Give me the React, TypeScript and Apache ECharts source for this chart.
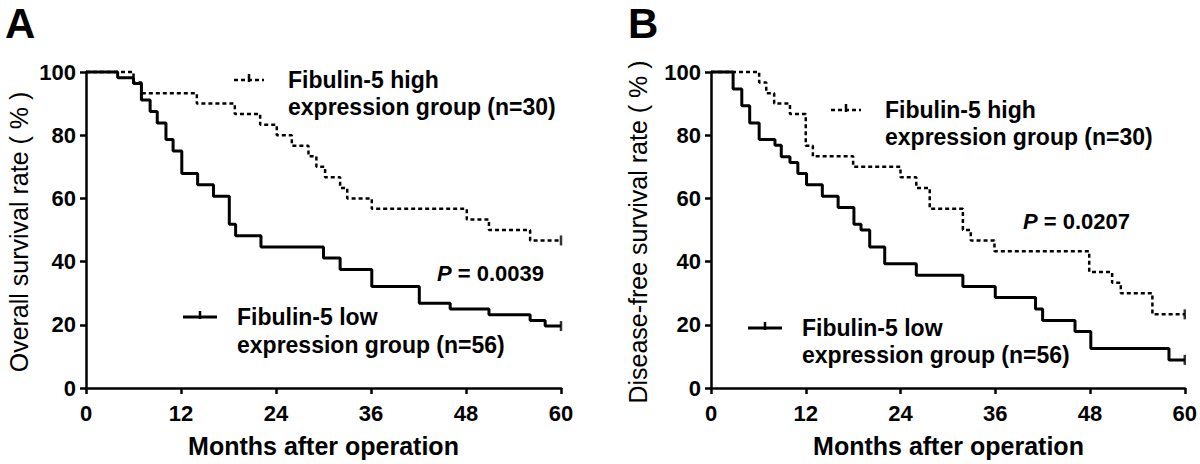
import React, { useEffect, useRef } from "react";
import * as echarts from "echarts";

// ---- Data ----
const monthTicks = [0, 12, 24, 36, 48, 60];
const rateTicks = [0, 20, 40, 60, 80, 100];

// Panel A: overall survival
const osHighMonths = [0, 6, 7, 14, 18.8, 22, 24.1, 26, 28.1, 29.1, 30.2, 32.1, 33, 36.1, 48.1, 50.9, 56.1, 60];
const osHighRate = [100, 96.7, 93.3, 90, 86.7, 83.3, 80, 76.7, 73.3, 70, 66.7, 63.3, 60, 56.7, 53.3, 50, 46.7, 46.7];
const osLowMonths = [0, 4, 6, 7, 8.1, 9, 10.1, 11, 12.1, 14.1, 16.1, 18.1, 18.9, 22.1, 30, 32.1, 36.1, 42.1, 46, 50.9, 56.1, 58, 60];
const osLowRate = [100, 98.2, 96.4, 91.1, 87.5, 83.9, 78.6, 75, 67.9, 64.3, 60.7, 51.8, 48.2, 44.6, 41.1, 37.5, 32.1, 26.8, 25, 23.2, 21.4, 19.6, 19.6];

// Panel B: disease-free survival
const dfsHighMonths = [0, 6.1, 7, 8, 10, 12, 12.9, 18, 24, 26, 27.7, 31.9, 32.9, 35.9, 47.9, 50.8, 51.9, 55.9, 60];
const dfsHighRate = [100, 96.7, 93.3, 90, 86.7, 76.7, 73.3, 70, 66.7, 63.3, 56.7, 50, 46.7, 43.3, 36.7, 33.3, 30, 23.3, 23.3];
const dfsLowMonths = [0, 2.8, 3.9, 4.9, 6.1, 8.1, 8.9, 10, 11, 12.1, 14.1, 16.1, 18.1, 19, 20.1, 22, 26, 31.9, 36, 41.1, 42, 46.1, 48.1, 58, 60];
const dfsLowRate = [100, 94.6, 89.3, 83.9, 78.6, 76.8, 73.2, 71.4, 67.9, 64.3, 60.7, 57.1, 51.8, 50, 44.6, 39.3, 35.7, 32.1, 28.6, 25, 21.4, 17.9, 12.5, 8.9, 8.9];

// censored marks at end of follow-up
const censorA = [[60, 46.7], [60, 19.6]];
const censorB = [[60, 23.3], [60, 8.9]];

const highLabel = ["Fibulin-5 high", "expression group (n=30)"];
const lowLabel = ["Fibulin-5 low", "expression group (n=56)"];
const pA = "0.0039";
const pB = "0.0207";

const FONT = "'Liberation Sans', Arial, sans-serif";

const zip = (xs: number[], ys: number[]) => xs.map((x, i) => [x, ys[i]]);

function axisCommon(gridIndex: number, isX: boolean) {
  return {
    type: "value",
    gridIndex,
    min: 0,
    max: isX ? 60 : 100,
    interval: isX ? 12 : 20,
    axisLine: { show: true, onZero: false, lineStyle: { color: "#000", width: 2.5 } },
    axisTick: { show: true, length: 6, lineStyle: { color: "#000", width: 2.5 } },
    axisLabel: {
      color: "#000",
      fontFamily: FONT,
      fontWeight: "bold",
      fontSize: 22,
      margin: isX ? 14 : 10,
    },
    splitLine: { show: false },
  };
}

function kmSeries(idx: number, data: number[][], dashed: boolean) {
  return {
    type: "line",
    xAxisIndex: idx,
    yAxisIndex: idx,
    step: "end",
    symbol: "none",
    clip: false,
    data,
    lineStyle: dashed
      ? { color: "#000", width: 2.5, type: [4, 3] }
      : { color: "#000", width: 3, type: "solid" },
    z: dashed ? 2 : 3,
  };
}

function censorSeries(idx: number, data: number[][]) {
  return {
    type: "scatter",
    xAxisIndex: idx,
    yAxisIndex: idx,
    symbol: "rect",
    symbolSize: [2.5, 10],
    clip: false,
    itemStyle: { color: "#000" },
    data,
    z: 4,
  };
}

function legendItem(x: number, y: number, textX: number, lines: string[], dashed: boolean, lineGap: number) {
  const w = dashed ? 30 : 34;
  return [
    {
      type: "line",
      shape: { x1: x, y1: y, x2: x + w, y2: y },
      style: { stroke: "#000", lineWidth: dashed ? 2.5 : 3, lineDash: dashed ? [4, 3] : null },
    },
    {
      type: "rect",
      shape: { x: x + w / 2 - 1.25, y: y - 6, width: 2.5, height: 8 },
      style: { fill: "#000" },
    },
    {
      type: "text",
      x: textX,
      y: y,
      style: {
        text: lines[0],
        font: `bold 23px ${FONT}`,
        fill: "#000",
        verticalAlign: "middle",
        align: "left",
      },
    },
    {
      type: "text",
      x: textX,
      y: y + lineGap,
      style: {
        text: lines[1],
        font: `bold 23px ${FONT}`,
        fill: "#000",
        verticalAlign: "middle",
        align: "left",
      },
    },
  ];
}

function pText(x: number, y: number, value: string) {
  return {
    type: "text",
    x,
    y,
    style: {
      text: `{i|P} = ${value}`,
      rich: {
        i: { fontStyle: "italic", fontWeight: "bold", fontSize: 22, fontFamily: FONT, fill: "#000" },
      },
      font: `bold 22px ${FONT}`,
      fill: "#000",
      verticalAlign: "middle",
      align: "left",
    },
  };
}

export default function App() {
  const ref = useRef<HTMLDivElement>(null);

  useEffect(() => {
    if (!ref.current) return;
    const chart = echarts.init(ref.current, undefined, { renderer: "svg" });

    const graphic: any[] = [
      { type: "text", x: 5, y: 2, style: { text: "A", font: `bold 42px ${FONT}`, fill: "#000", verticalAlign: "top" } },
      { type: "text", x: 628, y: 2, style: { text: "B", font: `bold 42px ${FONT}`, fill: "#000", verticalAlign: "top" } },
      {
        type: "text", x: 19, y: 232, rotation: Math.PI / 2,
        style: { text: "Overall survival rate ( % )", font: `25px ${FONT}`, fill: "#000", align: "center", verticalAlign: "middle" },
      },
      {
        type: "text", x: 638, y: 232, rotation: Math.PI / 2,
        style: { text: "Disease-free survival rate ( % )", font: `25px ${FONT}`, fill: "#000", align: "center", verticalAlign: "middle" },
      },
      {
        type: "text", x: 323.5, y: 446,
        style: { text: "Months after operation", font: `bold 25px ${FONT}`, fill: "#000", align: "center", verticalAlign: "middle" },
      },
      {
        type: "text", x: 948.5, y: 446,
        style: { text: "Months after operation", font: `bold 25px ${FONT}`, fill: "#000", align: "center", verticalAlign: "middle" },
      },
      ...legendItem(234, 80, 288, highLabel, true, 27),
      ...legendItem(183, 317, 237, lowLabel, false, 28),
      ...legendItem(831, 110, 885, highLabel, true, 27),
      ...legendItem(748, 328, 802, lowLabel, false, 27),
      pText(437, 273, pA),
      pText(1023, 221, pB),
    ];

    chart.setOption({
      animation: false,
      backgroundColor: "#fff",
      grid: [
        { left: 86, top: 72, width: 475, height: 316 },
        { left: 711, top: 72, width: 475, height: 316 },
      ],
      xAxis: [axisCommon(0, true), axisCommon(1, true)],
      yAxis: [axisCommon(0, false), axisCommon(1, false)],
      series: [
        kmSeries(0, zip(osHighMonths, osHighRate), true),
        kmSeries(0, zip(osLowMonths, osLowRate), false),
        censorSeries(0, censorA),
        kmSeries(1, zip(dfsHighMonths, dfsHighRate), true),
        kmSeries(1, zip(dfsLowMonths, dfsLowRate), false),
        censorSeries(1, censorB),
      ],
      graphic,
    });

    return () => chart.dispose();
  }, []);

  return (
    <div
      ref={ref}
      style={{ position: "absolute", left: 0, top: 0, width: 1200, height: 464, background: "#fff" }}
    />
  );
}

// tick arrays kept for reference of axis layout
void monthTicks;
void rateTicks;
